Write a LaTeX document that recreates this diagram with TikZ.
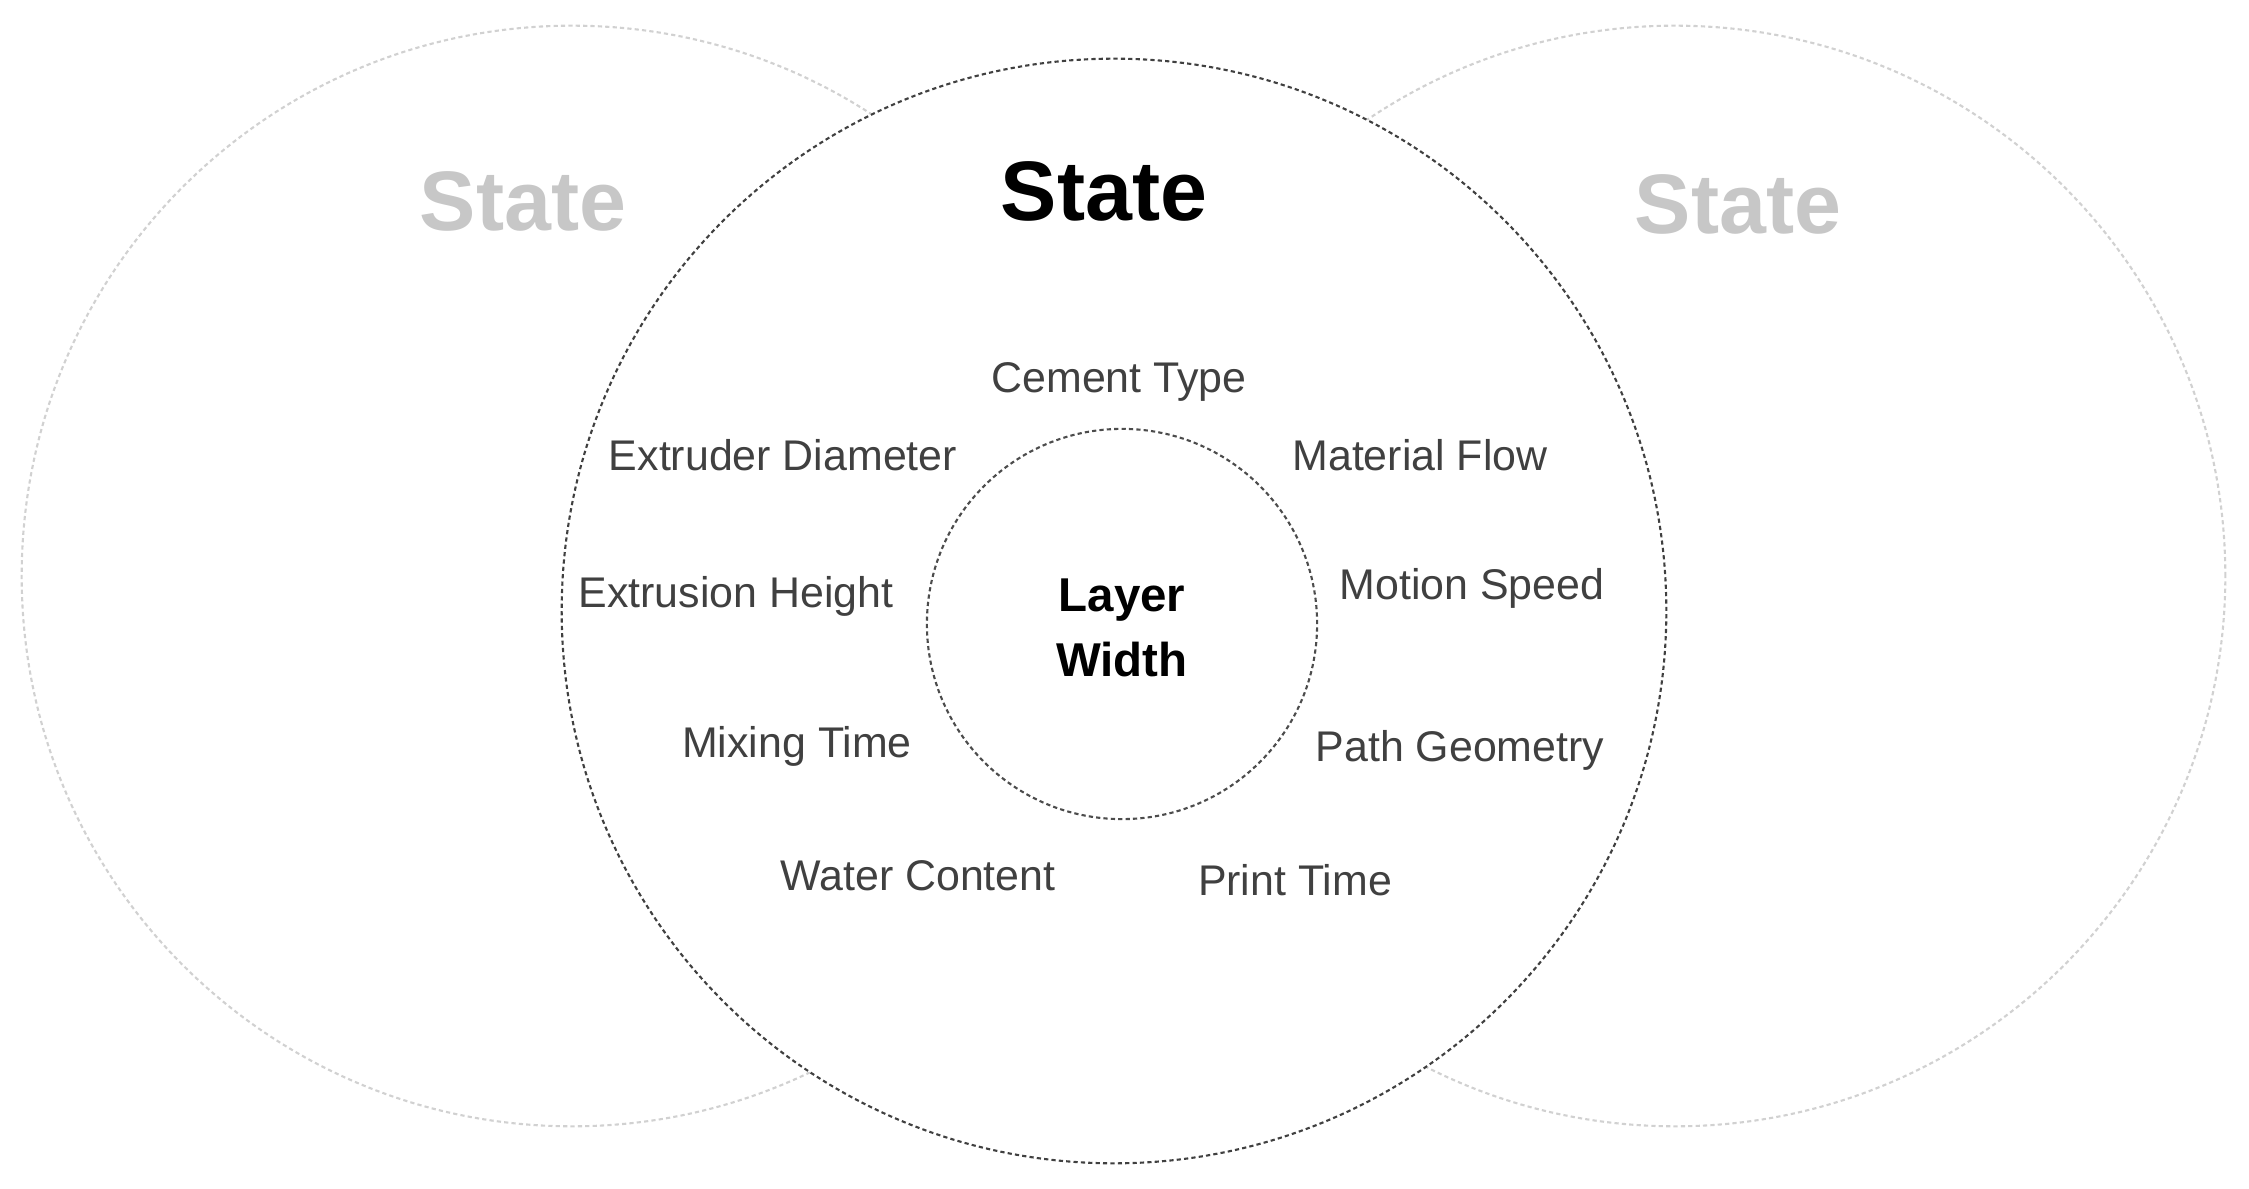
\documentclass[tikz,border=0pt]{standalone}
\usepackage{fontspec}
\setmainfont{Liberation Sans}
\begin{document}
\begin{tikzpicture}[x=0.01cm,y=-0.01cm,
  outerring/.style={circle, draw=black!18, line width=0.6pt, dash pattern=on 1.2pt off 0.9pt, minimum size=11cm, inner sep=0pt},
  mainring/.style={circle, draw=black!75, fill=white, line width=0.6pt, dash pattern=on 1.2pt off 0.9pt, minimum size=11.04cm, inner sep=0pt},
  corering/.style={circle, draw=black!70, fill=white, line width=0.6pt, dash pattern=on 1.2pt off 0.9pt, minimum size=3.9cm, inner sep=0pt},
  bigtitle/.style={font=\fontsize{24}{28}\selectfont\bfseries},
  greytitle/.style={bigtitle, text=black!22},
  factor/.style={font=\fontsize{12.2}{14}\selectfont, text=black!75},
  coretext/.style={font=\fontsize{13.5}{18.4}\selectfont\bfseries, align=center, text=black}]
\useasboundingbox (0,0) rectangle (2249,1189);
\node[outerring] (leftring) at (572,576) {};
\node[outerring] (rightring) at (1675,576) {};
\node[mainring] (mainring) at (1114,611) {};
\node[corering] (corering) at (1122,624) {};
\node[greytitle] (lefttitle) at (523,201) {State};
\node[greytitle] (righttitle) at (1738,204) {State};
\node[bigtitle] (maintitle) at (1104,191) {State};
\node[coretext] (core) at (1122,628) {Layer\\Width};
\node[factor] (cement) at (1119,382) {Cement Type};
\node[factor] (extruder) at (783,455) {Extruder Diameter};
\node[factor] (flow) at (1420,455) {Material Flow};
\node[factor] (height) at (736,596) {Extrusion Height};
\node[factor] (speed) at (1472,588) {Motion Speed};
\node[factor] (mixing) at (797,746) {Mixing Time};
\node[factor] (path) at (1460,750) {Path Geometry};
\node[factor] (water) at (918,876) {Water Content};
\node[factor] (print) at (1295,880) {Print Time};
\end{tikzpicture}
\end{document}
